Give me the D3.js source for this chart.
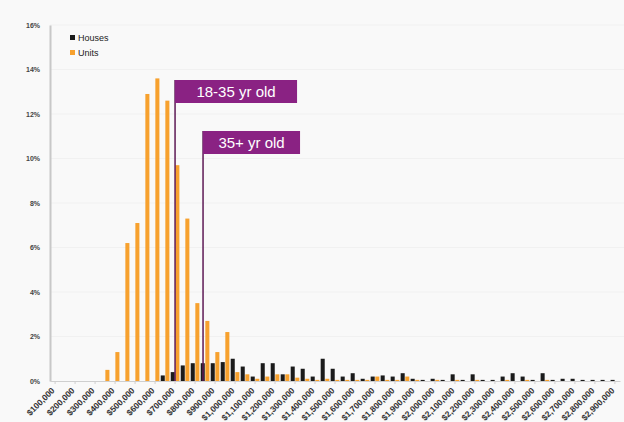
<!DOCTYPE html>
<html>
<head>
<meta charset="utf-8">
<script src="https://cdn.jsdelivr.net/npm/d3@7"></script>
<style>
  html, body { margin: 0; padding: 0; background: #f9f9f9; }
  svg { display: block; }
  text { font-family: "Liberation Sans", Arial, sans-serif; }
</style>
</head>
<body>
<svg id="chart" width="624" height="422"></svg>
<script>
// Price bins, $50,000 wide, from $100,000 to $2,900,000
const priceBins = d3.range(100000, 2900001, 50000);

// Share of purchases in each price bin (percent)
const housesPct = [
  0, 0, 0, 0, 0, 0, 0, 0, 0, 0, 0, 0.25,       // $100k - $650k
  0.4, 0.7, 0.8, 0.8, 0.8, 0.85, 1.0, 0.65,     // $700k - $1.05M
  0.2, 0.8, 0.8, 0.3, 0.65, 0.55, 0.2, 1.0,     // $1.1M - $1.45M
  0.55, 0.2, 0.35, 0.1, 0.2, 0.25, 0.2, 0.35,   // $1.5M - $1.85M
  0.1, 0.05, 0.1, 0.05, 0.3, 0.05, 0.3, 0.05,   // $1.9M - $2.25M
  0.05, 0.2, 0.35, 0.2, 0.05, 0.35, 0.05, 0.1,  // $2.3M - $2.65M
  0.1, 0.05, 0.05, 0.05, 0.05                   // $2.7M - $2.9M
];
const unitsPct = [
  0, 0, 0, 0, 0, 0.5, 1.3, 6.2, 7.1, 12.9, 13.6, 12.6, // $100k - $650k
  9.7, 7.3, 3.5, 2.7, 1.3, 2.2, 0.4, 0.3,       // $700k - $1.05M
  0.1, 0.2, 0.3, 0.3, 0.15, 0.1, 0.05, 0.1,     // $1.1M - $1.45M
  0.05, 0.05, 0.05, 0.05, 0.2, 0.05, 0.05, 0.2, // $1.5M - $1.85M
  0.05, 0, 0.05, 0, 0.05, 0, 0.05, 0,           // $1.9M - $2.25M
  0, 0.05, 0, 0.05, 0, 0.05, 0, 0,              // $2.3M - $2.65M
  0, 0, 0, 0, 0                                 // $2.7M - $2.9M
];

const seriesNames = ["Houses", "Units"];
const seriesColors = ["#1b1b1b", "#f7a12e"];

const yTicks = [0, 2, 4, 6, 8, 10, 12, 14, 16];

// Median purchase price markers by buyer age
const medianLabels = ["18-35 yr old", "35+ yr old"];
const medianPrices = [700000, 840000];

const fmtMoney = d => "$" + d3.format(",")(d);

const svg = d3.select("#chart");
const plotLeft = 50, plotRight = 620, plotTop = 25, plotBottom = 381;

const x0 = d3.scaleBand()
  .domain(priceBins)
  .range([plotLeft, plotRight])
  .paddingInner(0.08)
  .paddingOuter(0.05);

const x1 = d3.scaleBand()
  .domain(seriesNames)
  .range([0, x0.bandwidth()])
  .paddingInner(0.12)
  .paddingOuter(0.06);

const y = d3.scaleLinear().domain([0, 16]).range([plotBottom, plotTop]);

// price -> horizontal position, continuous across bin centres
const xPrice = p => x0(priceBins[0]) + x0.bandwidth() / 2 +
  (p - priceBins[0]) / 50000 * x0.step();

// faint horizontal gridlines
svg.append("g")
  .selectAll("line")
  .data(yTicks.filter(t => t > 0))
  .join("line")
  .attr("x1", plotLeft).attr("x2", 624)
  .attr("y1", d => y(d)).attr("y2", d => y(d))
  .attr("stroke", "#f1f1f1").attr("stroke-width", 1);

// bars
const rows = priceBins.map((p, i) => ({ p, vals: [housesPct[i], unitsPct[i]] }));
const groups = svg.append("g").selectAll("g")
  .data(rows)
  .join("g")
  .attr("transform", d => `translate(${x0(d.p)},0)`);

groups.selectAll("rect")
  .data(d => d.vals.map((v, k) => ({ k, v })))
  .join("rect")
  .attr("x", d => x1(seriesNames[d.k]))
  .attr("width", x1.bandwidth())
  .attr("y", d => y(d.v))
  .attr("height", d => y(0) - y(d.v))
  .attr("fill", d => seriesColors[d.k]);

// y axis
const yAxis = svg.append("g")
  .attr("transform", `translate(${plotLeft},0)`)
  .call(d3.axisLeft(y).tickValues(yTicks).tickFormat(d => d + "%").tickSize(0).tickPadding(10));
yAxis.select(".domain").attr("stroke", "#c8c8c8").attr("stroke-width", 2);
yAxis.selectAll("text")
  .attr("font-size", 7).attr("font-weight", "bold").attr("fill", "#444");

// x axis: every second bin is labelled
const xAxis = svg.append("g")
  .attr("transform", `translate(0,${plotBottom})`)
  .call(d3.axisBottom(x0)
    .tickValues(priceBins.filter((d, i) => i % 2 === 0))
    .tickFormat(fmtMoney)
    .tickSize(3).tickSizeOuter(0));
xAxis.select(".domain").attr("stroke", "#cfcfcf").attr("stroke-width", 1);
xAxis.selectAll(".tick line").attr("stroke", "#cfcfcf");
xAxis.selectAll("text")
  .attr("font-size", 8.5).attr("font-weight", "bold").attr("fill", "#333")
  .attr("text-anchor", "end")
  .attr("x", 0).attr("y", 0).attr("dy", "0.35em")
  .attr("transform", "translate(-2,8) rotate(-45)");

// legend
const legend = svg.append("g").attr("transform", "translate(70,38)");
seriesNames.forEach((name, k) => {
  const g = legend.append("g").attr("transform", `translate(0,${k * 15})`);
  g.append("rect").attr("x", 0).attr("y", -3).attr("width", 5).attr("height", 5)
    .attr("fill", seriesColors[k]);
  g.append("text").attr("x", 8).attr("y", 0).attr("dy", "0.35em")
    .attr("font-size", 9).attr("fill", "#222").text(name);
});

// median markers
const boxTops = [80, 131];
const boxWidths = [122, 97];
medianLabels.forEach((label, k) => {
  const xm = xPrice(medianPrices[k]);
  svg.append("line")
    .attr("x1", xm).attr("x2", xm)
    .attr("y1", boxTops[k]).attr("y2", y(0))
    .attr("stroke", "#5e1a55").attr("stroke-width", 1.5);
  svg.append("rect")
    .attr("x", xm).attr("y", boxTops[k])
    .attr("width", boxWidths[k]).attr("height", 23)
    .attr("fill", "#8a2283");
  svg.append("text")
    .attr("x", xm + boxWidths[k] / 2).attr("y", boxTops[k] + 12)
    .attr("dy", "0.35em").attr("text-anchor", "middle")
    .attr("font-size", 15).attr("fill", "#ffffff").text(label);
});
</script>
</body>
</html>
